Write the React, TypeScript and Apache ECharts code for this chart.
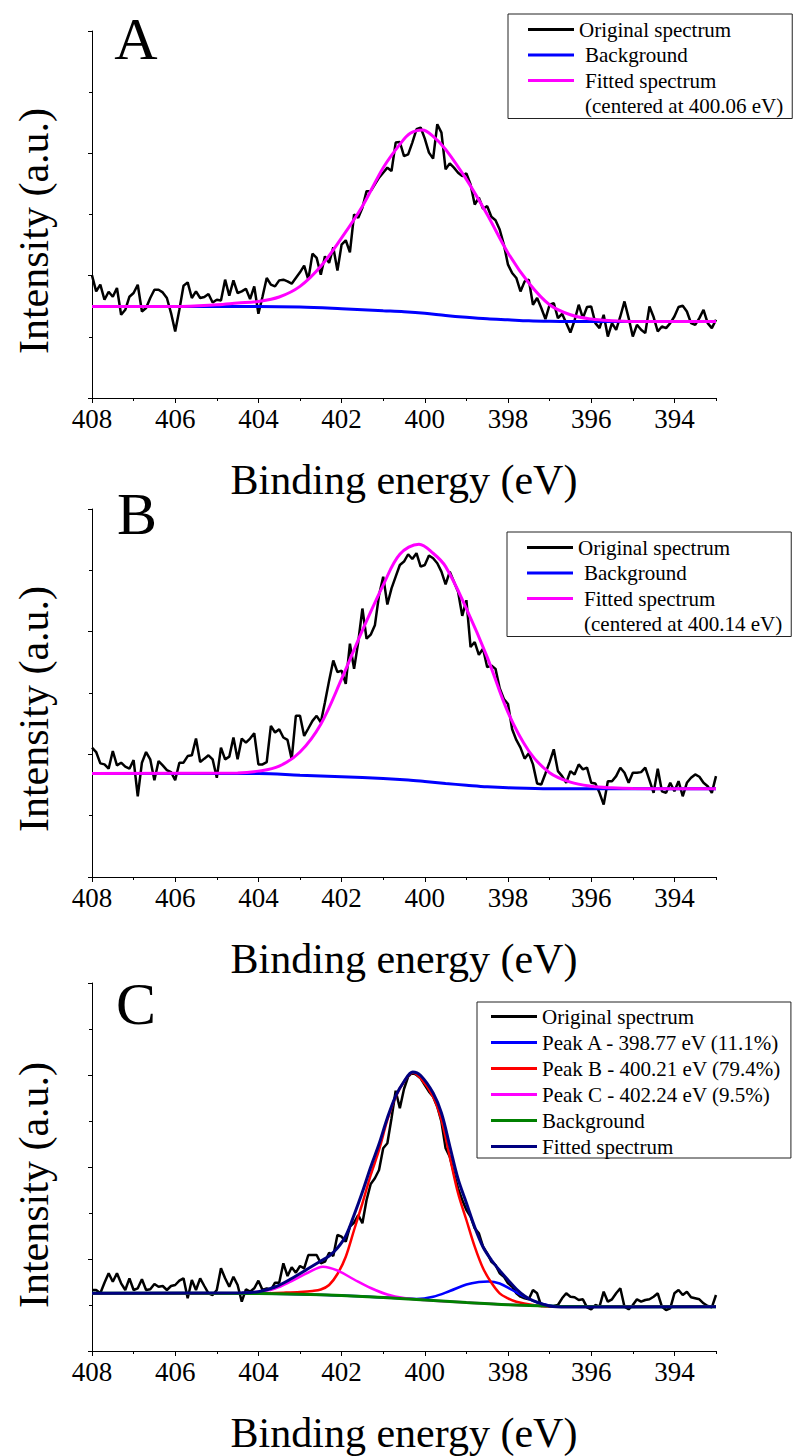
import React, { useEffect, useRef } from "react";
import * as echarts from "echarts";

const FONT = "Liberation Serif";

// Binding energy sampling of the measured spectra (eV)
const ENERGY_START = 408;
const ENERGY_STEP = 0.1;
const X_MIN = 393;
const X_MAX = 408;
const MAJOR_TICKS = [394, 396, 398, 400, 402, 404, 406, 408];
const MINOR_TICKS = [393, 395, 397, 399, 401, 403, 405, 407];

// ---------- Panel A ----------
const specA = [
  122.3, 106.3, 113, 98, 106, 101, 109.7, 83, 88, 101,
  104.7, 113, 86.3, 89.7, 99.7, 108, 108, 105.3, 99.7, 84.7,
  66.3, 88, 112, 115.3, 99.7, 106.3, 99.7, 100.7, 103.7, 95.3,
  98, 97.3, 118, 102, 117.3, 104.7, 106.3, 109, 98.7, 111.3,
  84, 101.3, 119.7, 113, 111.3, 117.3, 118, 116.3, 114, 119.7,
  125.3, 132, 118, 144, 139.7, 123, 141.3, 134.7, 150.3, 127,
  153, 157.3, 145.3, 183, 179.7, 189.7, 206.3, 206.3, 213, 219.7,
  224.7, 229.7, 226.3, 254.7, 255.3, 241.3, 243, 254.7, 268, 269.7,
  258.7, 244.7, 238.7, 273, 264.7, 228, 234, 229.7, 224.7, 221.3,
  224, 213, 193, 199.7, 188.7, 191.3, 180.7, 177.3, 168, 153,
  133, 124.7, 119.7, 106.3, 116.3, 118, 93, 99.7, 89.7, 78.7,
  93, 94.7, 79.7, 84, 74.7, 65.3, 77.3, 93, 79.7, 90.7,
  91.3, 74.7, 69.7, 83, 61.3, 74.7, 68, 81.3, 96.3, 79.7,
  61.3, 73, 68, 64.7, 91.3, 80.7, 66.3, 71.3, 69.7, 74.7,
  81.3, 90.7, 92, 86.3, 74.7, 73, 79.7, 88, 74.7, 69.7, 78,
];
const fitA = [
  [408, 91.3], [406, 91.3], [405, 93], [404.5, 94.7], [404, 96.3], [403.5, 100.7],
  [403, 111.3], [402.5, 131.3], [402, 159.7], [401.5, 191.3], [401, 229.7],
  [400.6, 253], [400.35, 264], [400.06, 267.3], [399.8, 261], [399.5, 248],
  [399, 218], [398.5, 183], [398, 144.7], [397.5, 114.7], [397, 93], [396.5, 83],
  [396, 78.7], [395.5, 77], [395, 76.3], [393, 76.3],
];
const bgA = [
  [408, 91.3], [404, 91.3], [403, 90.7], [402, 89], [401, 87], [400.5, 86],
  [400, 84.5], [399.5, 82.3], [399, 80.5], [398.5, 79], [398, 78], [397.5, 77],
  [397, 76.5], [396.5, 76.3], [393, 76.3],
];

// ---------- Panel B ----------
const specB = [
  128.7, 124.3, 113, 112, 107.7, 125.3, 111, 113.7, 109.7, 107.7,
  116.3, 80.3, 113.7, 124.3, 117, 96.3, 115.3, 111, 106.3, 104.3,
  96.3, 113.7, 113.7, 120.3, 121, 137.7, 114.3, 117.7, 121, 117,
  98.7, 128.7, 117, 119.7, 138.7, 117, 137.7, 133.7, 137.7, 143,
  112, 112, 114.3, 150.3, 143.7, 147, 138.7, 136.3, 117, 160.3,
  160.3, 140.3, 147.7, 155.3, 160.3, 153.7, 173.7, 195.3, 215.3, 203.7,
  205.3, 192, 232, 207, 233.7, 267, 237, 241, 250.3, 280.3,
  298.7, 271, 287, 298.7, 310.3, 313.7, 321, 316.3, 322, 308.7,
  310.3, 319.7, 317, 312, 303.7, 291, 303.7, 293.7, 283.7, 259.7,
  275.3, 228.7, 233.7, 221, 227, 208.7, 210.3, 207, 187.7, 177,
  172, 147, 136.3, 128.7, 117.7, 123, 112, 93, 92, 103,
  114.3, 127, 105.3, 100.3, 93.7, 105.3, 102, 112, 107, 108.7,
  93.7, 93, 83.7, 72, 95.3, 95.3, 100.3, 108.7, 103.7, 93.7,
  103.7, 103.7, 104.3, 108.7, 96.3, 83.7, 107.7, 85.3, 83.7, 93.7,
  85.3, 95.3, 80.3, 93.7, 98.7, 102, 99.7, 93.7, 90.3, 83.7, 100.3,
];
const fitB = [
  [408, 103], [404.5, 103.5], [404, 105.3], [403.5, 110.3], [403, 124.3],
  [402.5, 152], [402, 197], [401.5, 245.3], [401, 290.3], [400.6, 321],
  [400.14, 331], [399.8, 322], [399.5, 308.7], [399, 267], [398.5, 218.7],
  [398, 163.7], [397.5, 125.3], [397, 103.7], [396.5, 94.3], [396, 90.3],
  [395.5, 88.7], [395, 88], [393, 87.7],
];
const bgB = [
  [408, 103], [404, 103], [403, 101.3], [402, 99.7], [401, 98], [400.4, 96.5],
  [400, 95], [399.5, 93], [399, 91.3], [398.5, 89.7], [398, 88.7], [397, 87.7],
  [393, 87.7],
];

// ---------- Panel C ----------
const specC = [
  61, 61, 57.7, 68.3, 77.7, 69.3, 77.7, 67.7, 61, 72.7,
  61, 62.7, 71.7, 61, 61.7, 67, 64.3, 65, 61, 65,
  66, 70.3, 72.7, 52.7, 71, 61, 72.7, 65, 57.7, 56,
  61, 82.7, 72.7, 64.3, 74.3, 66, 49.3, 61.7, 59.3, 62.7,
  70.3, 61, 62.7, 61, 68.3, 68.3, 87.7, 75, 83.7, 78.3,
  85, 82.7, 96, 96, 96, 87.7, 89.3, 98.3, 95, 116,
  114.3, 109.3, 124.3, 128.3, 136, 127.7, 151, 167, 172.7, 181,
  202.7, 207.7, 232.7, 260.3, 242.7, 262, 274.3, 278.3, 276, 272.7,
  266, 259.3, 254.3, 244.3, 229.3, 202.7, 194.3, 177.7, 162.7, 151,
  141, 134.3, 122.7, 117.7, 104.3, 97.7, 89.3, 86, 77.7, 74.3,
  67.7, 64.3, 57.7, 54.3, 52.7, 51.7, 61, 57.7, 45, 46,
  44.3, 45, 46, 52.7, 57.7, 54.3, 53.7, 51, 51.7, 43.7,
  41.7, 46, 44.3, 59.3, 49.3, 51.7, 57.7, 62.7, 44.3, 41.7,
  46, 51.7, 49.3, 51, 51.7, 54.3, 57.7, 44.3, 41, 42.7,
  57.7, 61, 56, 59.3, 53.7, 52.7, 51.7, 47.7, 45, 43.7, 56,
];
const peakA_C = [
  [408, 57.7], [404, 57.5], [402, 55.5], [401, 53.6], [400.6, 52.8], [400.2, 52],
  [399.8, 54.3], [399.4, 60], [399, 66.5], [398.7, 69], [398.47, 69.5], [398.2, 67.5],
  [397.9, 61], [397.6, 54], [397.3, 48.5], [397, 45.5], [396.6, 44.3], [393, 44.3],
];
const peakB_C = [
  [408, 57.7], [404, 57.5], [403.4, 58.3], [403, 59], [402.7, 60], [402.5, 61.5],
  [402.3, 66], [402.1, 77], [401.9, 94.3], [401.7, 121], [401.5, 147.7],
  [401.3, 176], [401.1, 201], [400.9, 231], [400.7, 254.3], [400.5, 269.3],
  [400.29, 278.3], [400.1, 272.7], [399.8, 254.3], [399.6, 231], [399.4, 194.3],
  [399.2, 157.7], [399, 131], [398.8, 104.3], [398.6, 82.7], [398.4, 68.3],
  [398.2, 57.7], [398, 52.7], [397.8, 49.3], [397.4, 46], [397, 44.5], [393, 44.3],
];
const peakC_C = [
  [408, 57.7], [404.5, 57.8], [404, 59.3], [403.6, 62.5], [403.2, 70], [402.8, 78.5],
  [402.45, 84.3], [402.1, 80.5], [401.7, 71.5], [401.3, 63], [400.9, 56.5],
  [400.5, 53], [400, 51], [399, 48.5], [398, 46.3], [397, 45], [393, 44.3],
];
const bgC = [
  [408, 57.7], [404, 57.5], [403, 56.8], [402, 55.5], [401, 53.5], [400, 51],
  [399, 48.5], [398, 46.3], [397, 45], [396.5, 44.5], [393, 44.3],
];
const fitC = [
  [408, 57.7], [404.4, 58.3], [404, 59.3], [403.6, 64], [403.2, 72.5], [402.8, 82.5],
  [402.5, 90], [402.3, 95], [402.1, 103], [401.9, 115], [401.7, 136], [401.5, 159],
  [401.3, 184], [401.1, 207], [400.9, 233], [400.7, 255], [400.5, 269.5],
  [400.29, 279], [400.1, 275.5], [399.8, 258], [399.6, 238], [399.4, 205],
  [399.2, 172], [399, 148], [398.8, 124], [398.6, 104], [398.4, 91], [398.2, 80.5],
  [398, 71], [397.8, 62], [397.6, 55], [397.4, 50.3], [397, 45], [396.6, 43.9],
  [393, 44.3],
];

const LEGEND_A = ["Original spectrum", "Background", "Fitted spectrum", "(centered at 400.06 eV)"];
const LEGEND_B = ["Original spectrum", "Background", "Fitted spectrum", "(centered at 400.14 eV)"];
const LEGEND_C = [
  "Original spectrum",
  "Peak A - 398.77 eV (11.1%)",
  "Peak B - 400.21 eV (79.4%)",
  "Peak C - 402.24 eV (9.5%)",
  "Background",
  "Fitted spectrum",
];

const BLACK = "#000000";
const BLUE = "#0000ff";
const MAGENTA = "#ff00ff";
const RED = "#ff0000";
const GREEN = "#008000";
const NAVY = "#000080";

function spectrumData(values: number[]) {
  return values.map((v, i) => [+(ENERGY_START - i * ENERGY_STEP).toFixed(2), v]);
}

function lineSeries(name: string, data: any[], color: string, width: number, axis: number, z: number, smooth = false) {
  return {
    type: "line",
    name,
    data,
    xAxisIndex: axis * 2,
    yAxisIndex: axis,
    showSymbol: false,
    symbol: "none",
    smooth: smooth ? 0.35 : false,
    color,
    itemStyle: { color },
    lineStyle: { color, width },
    z,
    silent: true,
  };
}

function xAxes(gridIndex: number) {
  return [
    {
      type: "value",
      gridIndex,
      min: X_MIN,
      max: X_MAX,
      inverse: true,
      position: "bottom",
      axisLine: { show: true, onZero: false, lineStyle: { color: BLACK, width: 1 } },
      axisTick: { show: true, customValues: MAJOR_TICKS, length: 5, lineStyle: { color: BLACK, width: 1 } },
      axisLabel: {
        show: true,
        customValues: MAJOR_TICKS,
        margin: 7,
        fontSize: 27,
        fontFamily: FONT,
        color: BLACK,
      },
      splitLine: { show: false },
      name: "Binding energy (eV)",
      nameLocation: "middle",
      nameGap: 61,
      nameTextStyle: { fontSize: 42, fontFamily: FONT, color: BLACK },
    },
    {
      type: "value",
      gridIndex,
      min: X_MIN,
      max: X_MAX,
      inverse: true,
      position: "bottom",
      offset: 0,
      axisLine: { show: false },
      axisTick: { show: true, customValues: MINOR_TICKS, length: 3, lineStyle: { color: BLACK, width: 1 } },
      axisLabel: { show: false },
      splitLine: { show: false },
    },
  ];
}

function yAxis(gridIndex: number, max: number, interval: number) {
  return {
    type: "value",
    gridIndex,
    min: 0,
    max,
    interval,
    axisLine: { show: true, onZero: false, lineStyle: { color: BLACK, width: 1 } },
    axisTick: { show: true, length: 4, lineStyle: { color: BLACK, width: 1 } },
    minorTick: { show: true, splitNumber: 2, length: 3, lineStyle: { color: BLACK, width: 1 } },
    axisLabel: { show: false },
    splitLine: { show: false },
    minorSplitLine: { show: false },
  };
}

function legend(left: number, top: number, names: string[], colors: string[], indent: boolean[], padding: number[], gap: number) {
  return {
    orient: "vertical",
    left,
    top,
    padding,
    itemGap: gap,
    itemWidth: 46,
    itemHeight: 3,
    icon: "rect",
    borderColor: "#222",
    borderWidth: 1,
    backgroundColor: "#ffffff",
    selectedMode: false,
    textStyle: { fontSize: 21, fontFamily: FONT, color: BLACK, lineHeight: 21 },
    data: names.map((name, i) => ({
      name,
      itemStyle: { color: colors[i] },
      textStyle: indent[i]
        ? { fontSize: 21, fontFamily: FONT, color: BLACK, lineHeight: 21, padding: [0, 0, 0, 6] }
        : { fontSize: 21, fontFamily: FONT, color: BLACK, lineHeight: 21 },
    })),
  };
}

function titleText(text: string, x: number, y: number, size: number, rotation = 0) {
  return {
    type: "text",
    x,
    y,
    rotation,
    silent: true,
    style: { text, fontSize: size, fontFamily: FONT, fill: BLACK, align: "center", verticalAlign: "middle" },
  };
}

export default function App() {
  const ref = useRef<HTMLDivElement | null>(null);

  useEffect(() => {
    document.body.style.margin = "0";
    if (!ref.current) return;
    const chart = echarts.init(ref.current, undefined, { renderer: "svg" });

    const option: any = {
      animation: false,
      backgroundColor: "#ffffff",
      textStyle: { fontFamily: FONT },
      grid: [
        { left: 92, top: 31, width: 624, height: 367 },
        { left: 92, top: 509, width: 624, height: 368 },
        { left: 92, top: 983, width: 624, height: 368 },
      ],
      xAxis: [...xAxes(0), ...xAxes(1), ...xAxes(2)],
      yAxis: [yAxis(0, 366, 122), yAxis(1, 366, 122), yAxis(2, 368, 92)],
      legend: [
        legend(508, 14, LEGEND_A, [BLACK, BLUE, MAGENTA, "rgba(0,0,0,0)"], [false, true, true, true], [5, 9, 2, 20], 4.5),
        legend(507, 532, LEGEND_B, [BLACK, BLUE, MAGENTA, "rgba(0,0,0,0)"], [false, true, true, true], [5, 9, 2, 20], 4.5),
        legend(477, 1002, LEGEND_C, [BLACK, BLUE, RED, MAGENTA, GREEN, NAVY], [false, false, false, false, false, false], [4, 10, 1, 14], 5),
      ],
      series: [
        lineSeries("Original spectrum", spectrumData(specA), BLACK, 2.5, 0, 2),
        lineSeries("Background", bgA, BLUE, 3, 0, 3, true),
        lineSeries("Fitted spectrum", fitA, MAGENTA, 3, 0, 4, true),
        lineSeries(LEGEND_A[3], [], "rgba(0,0,0,0)", 0, 0, 1),

        lineSeries("Original spectrum", spectrumData(specB), BLACK, 2.5, 1, 2),
        lineSeries("Background", bgB, BLUE, 3, 1, 3, true),
        lineSeries("Fitted spectrum", fitB, MAGENTA, 3, 1, 4, true),
        lineSeries(LEGEND_B[3], [], "rgba(0,0,0,0)", 0, 1, 1),

        lineSeries("Original spectrum", spectrumData(specC), BLACK, 2.5, 2, 2),
        lineSeries(LEGEND_C[1], peakA_C, BLUE, 2.5, 2, 3, true),
        lineSeries(LEGEND_C[2], peakB_C, RED, 2.5, 2, 3, true),
        lineSeries(LEGEND_C[3], peakC_C, MAGENTA, 2.5, 2, 3, true),
        lineSeries("Background", bgC, GREEN, 3, 2, 4, true),
        lineSeries("Fitted spectrum", fitC, NAVY, 3, 2, 5, true),
      ],
      graphic: [
        titleText("A", 136, 39, 60),
        titleText("B", 137, 514, 60),
        titleText("C", 136, 1004, 60),
        titleText("Intensity (a.u.)", 34, 231, 42, Math.PI / 2),
        titleText("Intensity (a.u.)", 34, 709, 42, Math.PI / 2),
        titleText("Intensity (a.u.)", 34, 1185, 42, Math.PI / 2),
      ],
    };

    chart.setOption(option);
    return () => {
      chart.dispose();
    };
  }, []);

  return <div ref={ref} style={{ width: 795, height: 1456 }} />;
}
